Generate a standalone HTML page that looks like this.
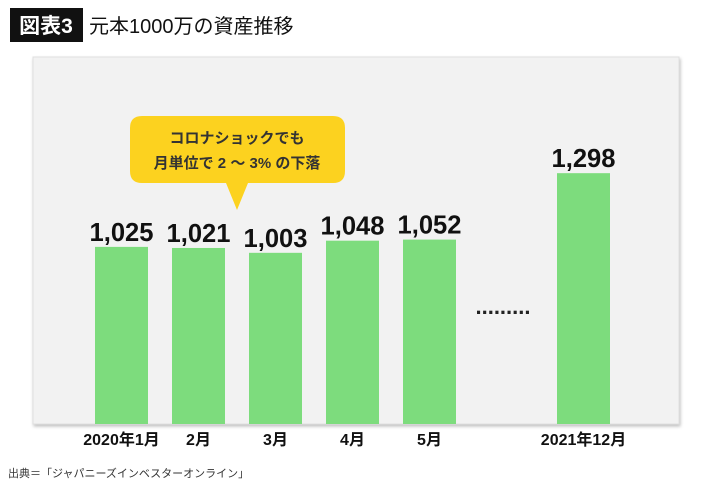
<!DOCTYPE html>
<html><head><meta charset="utf-8"><style>
body{margin:0;background:#fff;width:710px;height:487px;overflow:hidden;font-family:"Liberation Sans","Noto Sans CJK JP",sans-serif}
</style></head><body>
<svg width="710" height="487" xmlns="http://www.w3.org/2000/svg" style="font-family:'Liberation Sans','Noto Sans CJK JP',sans-serif">
<defs><filter id="sh" x="-5%" y="-5%" width="110%" height="110%"><feDropShadow dx="1" dy="2" stdDeviation="1.5" flood-color="#000" flood-opacity="0.25"/></filter></defs>
<rect x="10" y="8" width="73" height="34" fill="#111"/>
<text x="46" y="33" fill="#fff" font-size="21" font-weight="bold" text-anchor="middle">図表3</text>
<text x="89" y="33" fill="#111" font-size="20">元本1000万の資産推移</text>
<rect x="33" y="57" width="646" height="367" fill="#f2f2f2" stroke="#e0e0e0" filter="url(#sh)"/>
<g id="bars"></g>
<text x="503" y="314" font-size="22" font-weight="bold" text-anchor="middle" fill="#222">.........</text>
<g>
<path d="M142 116 H333 Q345 116 345 128 V171 Q345 183 333 183 H248 L237 210 L226 183 H142 Q130 183 130 171 V128 Q130 116 142 116 Z" fill="#fcd21f"/>
<text x="237" y="143" font-size="15" font-weight="bold" text-anchor="middle" fill="#333">コロナショックでも</text>
<text x="237" y="168" font-size="15" font-weight="bold" text-anchor="middle" fill="#333">月単位で 2 ～ 3% の下落</text>
</g>
<text x="8" y="477" font-size="11" fill="#333">出典＝「ジャパニーズインベスターオンライン」</text>
</svg>
<script>
const categories=["2020年1月","2月","3月","4月","5月","2021年12月"];
const values=[1025,1021,1003,1048,1052,1298];
const valueLabels=["1,025","1,021","1,003","1,048","1,052","1,298"];
const slots=[0,1,2,3,4,6];
const baseY=424,k=0.27,base=369;
function yScale(v){return baseY-(v-base)*k;}
function xScale(i){return 121.5+slots[i]*77;}
const g=document.getElementById('bars');const ns="http://www.w3.org/2000/svg";
categories.forEach((c,i)=>{
 const cx=xScale(i),y=yScale(values[i]);
 const r=document.createElementNS(ns,'rect');
 
 
 r.setAttribute('x',cx-26.5);r.setAttribute('y',y);r.setAttribute('width',53);r.setAttribute('height',baseY-y);r.setAttribute('fill','#7ddc7d');g.appendChild(r);
 const t=document.createElementNS(ns,'text');
 
 
 t.setAttribute('x',cx);t.setAttribute('y',y-6);t.setAttribute('text-anchor','middle');t.setAttribute('font-size','26');t.setAttribute('font-weight','bold');t.setAttribute('fill','#111');t.setAttribute('textLength','64');t.setAttribute('lengthAdjust','spacingAndGlyphs');t.textContent=valueLabels[i];g.appendChild(t);
 const l=document.createElementNS(ns,'text');
 
 
 l.setAttribute('x',cx);l.setAttribute('y',445);l.setAttribute('text-anchor','middle');l.setAttribute('font-size','16');l.setAttribute('font-weight','bold');l.setAttribute('fill','#111');l.textContent=c;g.appendChild(l);
});
</script>
</body></html>
